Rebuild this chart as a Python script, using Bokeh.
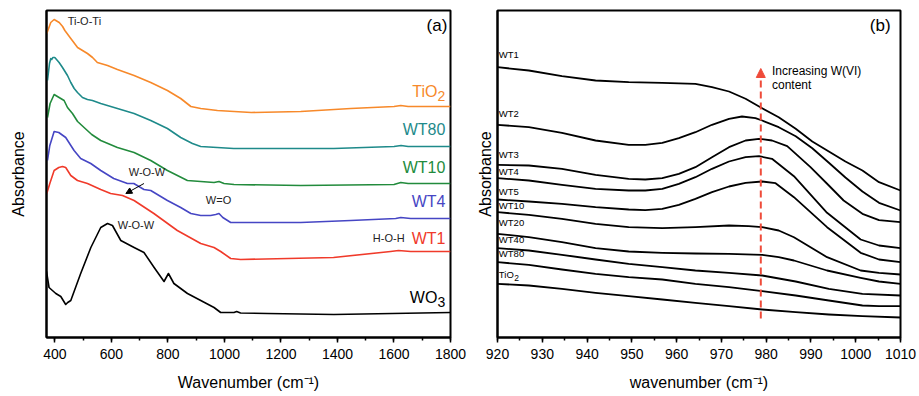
from bokeh.plotting import figure
from bokeh.layouts import row
from bokeh.models import Range1d, Label, Arrow, NormalHead, FixedTicker, SingleIntervalTicker
from bokeh.embed import file_html
from bokeh.resources import INLINE

FONT = "Liberation Sans"

# ---------------- Panel (a) data: FTIR spectra (offset, a.u.) ----------------
wn_tio2 = [371, 385, 397, 415, 427, 435, 456, 480, 515, 533, 550, 586, 621, 680, 739, 798, 845, 881, 916, 975, 1034, 1095, 1270, 1447, 1600, 1624, 1650, 1800]
ab_tio2 = [3.04, 3.15, 3.18, 3.15, 3.11, 3.07, 2.99, 2.90, 2.84, 2.80, 2.75, 2.72, 2.68, 2.62, 2.55, 2.47, 2.39, 2.31, 2.29, 2.27, 2.26, 2.25, 2.26, 2.29, 2.31, 2.32, 2.31, 2.31]

wn_wt80 = [373.5, 380.6, 385.2, 388.7, 392.3, 399.4, 414.6, 426.6, 444.3, 456, 468, 479.7, 497.3, 515, 532.7, 562, 621, 680, 739, 798, 845, 886.5, 915.8, 1032.6, 1151.8, 1387, 1600, 1625, 1650, 1800]
ab_wt80 = [2.57, 2.74, 2.79, 2.78, 2.80, 2.80, 2.75, 2.70, 2.62, 2.55, 2.49, 2.45, 2.40, 2.38, 2.37, 2.34, 2.29, 2.24, 2.17, 2.09, 2.00, 1.94, 1.91, 1.89, 1.89, 1.89, 1.91, 1.92, 1.91, 1.91]

wn_wt10 = [373.5, 382.7, 397, 414.6, 432.3, 444.3, 461.9, 480, 503, 530, 562, 621, 680, 739, 798, 868.7, 915.8, 963, 980.6, 998.3, 1033.7, 1270, 1600, 1624, 1650, 1800]
ab_wt10 = [2.20, 2.34, 2.43, 2.40, 2.37, 2.30, 2.24, 2.16, 2.10, 2.03, 1.97, 1.90, 1.85, 1.77, 1.67, 1.57, 1.56, 1.55, 1.56, 1.54, 1.53, 1.52, 1.53, 1.55, 1.54, 1.54]

wn_wt4 = [373.5, 381.7, 397, 413.5, 438, 467.6, 491, 526.7, 562, 608, 656.5, 679, 715, 739, 798, 845, 881, 916, 951, 969, 980.6, 994, 1022, 1093, 1270, 1447, 1606, 1624, 1659, 1800]
ab_wt4 = [1.77, 1.92, 2.06, 2.05, 2.00, 1.87, 1.79, 1.74, 1.67, 1.59, 1.54, 1.54, 1.48, 1.47, 1.37, 1.30, 1.24, 1.22, 1.22, 1.23, 1.24, 1.20, 1.15, 1.15, 1.15, 1.17, 1.19, 1.20, 1.19, 1.19]

wn_wt1 = [371, 381.7, 397, 413.5, 426.6, 438, 456, 479.7, 515, 562, 597, 639, 680, 750, 833, 916, 963, 986.5, 1022, 1057, 1386, 1588, 1616, 1659, 1800]
ab_wt1 = [1.44, 1.54, 1.67, 1.70, 1.71, 1.70, 1.62, 1.57, 1.54, 1.48, 1.44, 1.42, 1.37, 1.24, 1.07, 0.94, 0.90, 0.86, 0.79, 0.78, 0.80, 0.86, 0.87, 0.86, 0.86]

wn_wo3 = [370, 379, 403, 420.6, 438, 445, 456, 491, 527, 562, 586, 603.5, 633, 680, 715, 751, 786, 801.6, 821, 869, 916, 963, 986.5, 1033.6, 1043, 1057, 1152, 1387, 1800]
ab_wo3 = [0.66, 0.50, 0.44, 0.41, 0.33, 0.35, 0.37, 0.64, 0.90, 1.10, 1.14, 1.12, 0.97, 0.90, 0.85, 0.70, 0.56, 0.64, 0.54, 0.44, 0.37, 0.30, 0.25, 0.25, 0.26, 0.245, 0.24, 0.23, 0.25]

# (label, subscript, x, y, colour, label y)
series_a = [
    ("TiO", "2", wn_tio2, ab_tio2, "#f7892a", 2.46),
    ("WT80", "", wn_wt80, ab_wt80, "#1e8a8a", 2.08),
    ("WT10", "", wn_wt10, ab_wt10, "#228b3c", 1.70),
    ("WT4", "", wn_wt4, ab_wt4, "#4646c4", 1.36),
    ("WT1", "", wn_wt1, ab_wt1, "#f03a2a", 0.99),
    ("WO", "3", wn_wo3, ab_wo3, "#000000", 0.40),
]

# ---------------- Panel (b) data: zoom 920-1010 cm-1 ----------------
b_wt1_x = [920, 927.0, 934.4, 941.9, 949.3, 956.8, 964.2, 967.9, 971.7, 975.4, 979.1, 982.8, 986.6, 990.3, 994.0, 997.7, 1001.5, 1005.2, 1010]
b_wt1_y = [2.703, 2.67, 2.613, 2.57, 2.553, 2.547, 2.537, 2.503, 2.46, 2.387, 2.293, 2.203, 2.087, 1.96, 1.86, 1.76, 1.67, 1.553, 1.47]

b_wt2_x = [920, 927.0, 934.4, 941.9, 949.3, 953.0, 956.8, 960.5, 964.2, 967.9, 971.7, 974.6, 977.6, 979.1, 982.8, 986.6, 990.3, 994.0, 997.7, 1001.5, 1005.2, 1010]
b_wt2_y = [2.127, 2.103, 2.047, 1.97, 1.927, 1.927, 1.947, 1.993, 2.053, 2.127, 2.187, 2.21, 2.193, 2.17, 2.103, 2.013, 1.893, 1.747, 1.6, 1.46, 1.347, 1.27]

b_wt3_x = [920, 927.0, 934.4, 941.9, 949.3, 953.0, 956.8, 960.5, 964.2, 967.9, 971.7, 975.4, 978.4, 981.3, 984.7, 989.9, 994.0, 997.3, 1001.5, 1005.2, 1010]
b_wt3_y = [1.727, 1.72, 1.687, 1.627, 1.587, 1.58, 1.593, 1.637, 1.703, 1.803, 1.903, 1.97, 1.987, 1.97, 1.913, 1.703, 1.52, 1.37, 1.237, 1.173, 1.153]

b_wt4_x = [920, 927.0, 934.4, 941.9, 949.3, 953.0, 956.8, 960.5, 964.2, 967.9, 971.7, 975.4, 978.4, 981.3, 986.2, 993.6, 1001.1, 1005.2, 1010]
b_wt4_y = [1.593, 1.57, 1.527, 1.487, 1.47, 1.47, 1.487, 1.537, 1.603, 1.687, 1.76, 1.803, 1.813, 1.787, 1.613, 1.247, 0.98, 0.92, 0.893]

b_wt5_x = [920, 927.0, 934.4, 941.9, 949.3, 953.0, 956.8, 960.5, 964.2, 967.9, 971.7, 975.4, 979.1, 982.1, 986.2, 993.6, 1001.1, 1005.2, 1010]
b_wt5_y = [1.38, 1.36, 1.337, 1.303, 1.28, 1.273, 1.287, 1.327, 1.387, 1.453, 1.51, 1.547, 1.56, 1.543, 1.403, 1.103, 0.847, 0.78, 0.753]

b_wt10_x = [920, 927.0, 934.4, 941.9, 949.3, 956.8, 964.2, 971.7, 976.1, 979.1, 982.8, 986.2, 993.6, 1001.1, 1005.2, 1010]
b_wt10_y = [1.253, 1.227, 1.187, 1.137, 1.103, 1.093, 1.103, 1.12, 1.113, 1.103, 1.07, 1.003, 0.803, 0.67, 0.647, 0.63]

b_wt20_x = [920, 927.0, 934.4, 941.9, 949.3, 956.8, 964.2, 971.7, 979.1, 982.8, 986.2, 993.6, 1001.1, 1005.2, 1010]
b_wt20_y = [1.037, 1.003, 0.953, 0.893, 0.86, 0.847, 0.84, 0.837, 0.827, 0.803, 0.77, 0.67, 0.597, 0.56, 0.537]

b_wt40_x = [920, 927.0, 934.4, 941.9, 949.3, 956.8, 964.2, 971.7, 979.1, 986.6, 994.0, 1001.5, 1010]
b_wt40_y = [0.893, 0.87, 0.827, 0.78, 0.737, 0.703, 0.67, 0.647, 0.62, 0.56, 0.487, 0.437, 0.42]

b_wt80_x = [920, 927.0, 934.4, 941.9, 949.3, 956.8, 964.2, 971.7, 979.1, 986.6, 994.0, 1001.5, 1005.2, 1010]
b_wt80_y = [0.753, 0.727, 0.68, 0.637, 0.603, 0.58, 0.537, 0.503, 0.463, 0.42, 0.37, 0.32, 0.313, 0.313]

b_tio2_x = [920, 927.0, 934.4, 941.9, 949.3, 956.8, 964.2, 971.7, 979.1, 986.6, 994.0, 1001.5, 1010]
b_tio2_y = [0.537, 0.52, 0.487, 0.447, 0.413, 0.38, 0.347, 0.313, 0.28, 0.253, 0.23, 0.213, 0.2]

series_b = [
    ("WT1", "", b_wt1_x, b_wt1_y, 2.83),
    ("WT2", "", b_wt2_x, b_wt2_y, 2.24),
    ("WT3", "", b_wt3_x, b_wt3_y, 1.83),
    ("WT4", "", b_wt4_x, b_wt4_y, 1.66),
    ("WT5", "", b_wt5_x, b_wt5_y, 1.46),
    ("WT10", "", b_wt10_x, b_wt10_y, 1.32),
    ("WT20", "", b_wt20_x, b_wt20_y, 1.15),
    ("WT40", "", b_wt40_x, b_wt40_y, 0.98),
    ("WT80", "", b_wt80_x, b_wt80_y, 0.84),
    ("TiO", "2", b_tio2_x, b_tio2_y, 0.63),
]


def style(p, xlabel, ylabel, ylabel_standoff):
    p.grid.visible = False
    p.outline_line_color = "black"
    p.outline_line_width = 2
    p.outline_line_alpha = 1
    p.background_fill_color = "white"
    p.border_fill_color = "white"
    xa = p.xaxis[0]
    xa.axis_label = xlabel
    xa.axis_label_text_font = FONT
    xa.axis_label_text_font_size = "16px"
    xa.axis_label_text_font_style = "normal"
    xa.axis_label_text_color = "black"
    xa.axis_label_standoff = 12
    xa.major_label_text_font = FONT
    xa.major_label_text_font_size = "14px"
    xa.major_label_text_color = "black"
    xa.major_label_standoff = 6
    xa.axis_line_color = "black"
    xa.axis_line_width = 2
    xa.major_tick_in = 0
    xa.major_tick_out = 5
    xa.minor_tick_in = 0
    xa.minor_tick_out = 3
    xa.major_tick_line_width = 1.5
    xa.minor_tick_line_width = 1.5
    xa.major_tick_line_color = "black"
    xa.minor_tick_line_color = "black"
    ya = p.yaxis[0]
    ya.ticker = FixedTicker(ticks=[])
    ya.axis_label = ylabel
    ya.axis_label_text_font = FONT
    ya.axis_label_text_font_size = "16px"
    ya.axis_label_text_font_style = "normal"
    ya.axis_label_text_color = "black"
    ya.axis_label_standoff = ylabel_standoff
    ya.major_label_standoff = 0
    ya.major_tick_out = 0
    ya.minor_tick_out = 0
    ya.axis_line_color = "black"
    ya.axis_line_width = 2


def add_name(p, x, y, main, sub, size, sub_size, color, align, sub_w, sub_drop):
    # main text plus an optional lowered subscript part
    if align == "right":
        p.add_layout(Label(x=x, y=y, x_offset=-sub_w if sub else 0, text=main, text_align="right",
                           text_baseline="middle", text_font=FONT, text_font_size=size, text_color=color))
        if sub:
            p.add_layout(Label(x=x, y=y, x_offset=-sub_w, y_offset=-sub_drop, text=sub, text_align="left",
                               text_baseline="middle", text_font=FONT, text_font_size=sub_size, text_color=color))
    else:
        p.add_layout(Label(x=x, y=y, text=main, text_align="left", text_baseline="middle",
                           text_font=FONT, text_font_size=size, text_color=color))
        if sub:
            p.add_layout(Label(x=x, y=y, x_offset=sub_w, y_offset=-sub_drop, text=sub, text_align="left",
                               text_baseline="middle", text_font=FONT, text_font_size=sub_size, text_color=color))


# ---------------- Figure (a) ----------------
pa = figure(width=468, height=396, x_range=Range1d(370, 1800), y_range=Range1d(0, 3.27),
            output_backend="svg", toolbar_location=None,
            min_border_left=46, min_border_right=18, min_border_top=10, min_border_bottom=59)
style(pa, "Wavenumber (cm⁻¹)", "Absorbance", 20)
pa.xaxis[0].ticker = SingleIntervalTicker(interval=200, num_minor_ticks=2)

for main, sub, xs, ys, col, ly in series_a:
    pa.line(xs, ys, line_color=col, line_width=1.6, line_join="round")
    add_name(pa, 1782, ly, main, sub, "16px", "14px", col, "right", 8, 4)

for txt, x, y in [("Ti-O-Ti", 445, 3.17), ("W-O-W", 661, 1.66), ("W=O", 934, 1.38),
                  ("W-O-W", 622, 1.13), ("H-O-H", 1525, 1.00)]:
    pa.add_layout(Label(x=x, y=y, text=txt, text_align="left", text_baseline="middle",
                        text_font=FONT, text_font_size="11px", text_color="#222222"))

pa.add_layout(Arrow(end=NormalHead(size=6, fill_color="black", line_color="black"),
                    x_start=715, y_start=1.54, x_end=651, y_end=1.44,
                    line_color="black", line_width=1))
pa.add_layout(Label(x=1789, y=3.12, text="(a)", text_align="right", text_baseline="middle",
                    text_font=FONT, text_font_size="17px", text_color="black"))

# ---------------- Figure (b) ----------------
pb = figure(width=451, height=396, x_range=Range1d(920, 1010), y_range=Range1d(0, 3.27),
            output_backend="svg", toolbar_location=None,
            min_border_left=29, min_border_right=19, min_border_top=10, min_border_bottom=59)
style(pb, "wavenumber (cm⁻¹)", "Absorbance", 4)
pb.xaxis[0].ticker = SingleIntervalTicker(interval=10, num_minor_ticks=2)

for main, sub, xs, ys, ly in series_b:
    pb.line(xs, ys, line_color="black", line_width=1.8, line_join="round")
    add_name(pb, 920.3, ly, main, sub, "9.5px", "8.5px", "black", "left", 15.5, 3)

red = "#ef4b3a"
pb.add_layout(Arrow(end=NormalHead(size=9, fill_color=red, line_color=red),
                    x_start=978.8, y_start=0.19, x_end=978.8, y_end=2.69,
                    line_color=red, line_width=2, line_dash="7 4"))
pb.add_layout(Label(x=981.3, y=2.67, text="Increasing W(VI)", text_align="left", text_baseline="middle",
                    text_font=FONT, text_font_size="12px", text_color="black"))
pb.add_layout(Label(x=981.3, y=2.53, text="content", text_align="left", text_baseline="middle",
                    text_font=FONT, text_font_size="12px", text_color="black"))
pb.add_layout(Label(x=1007.8, y=3.12, text="(b)", text_align="right", text_baseline="middle",
                    text_font=FONT, text_font_size="17px", text_color="black"))

layout = row(pa, pb)
open("out.html", "w").write(file_html(layout, INLINE))
